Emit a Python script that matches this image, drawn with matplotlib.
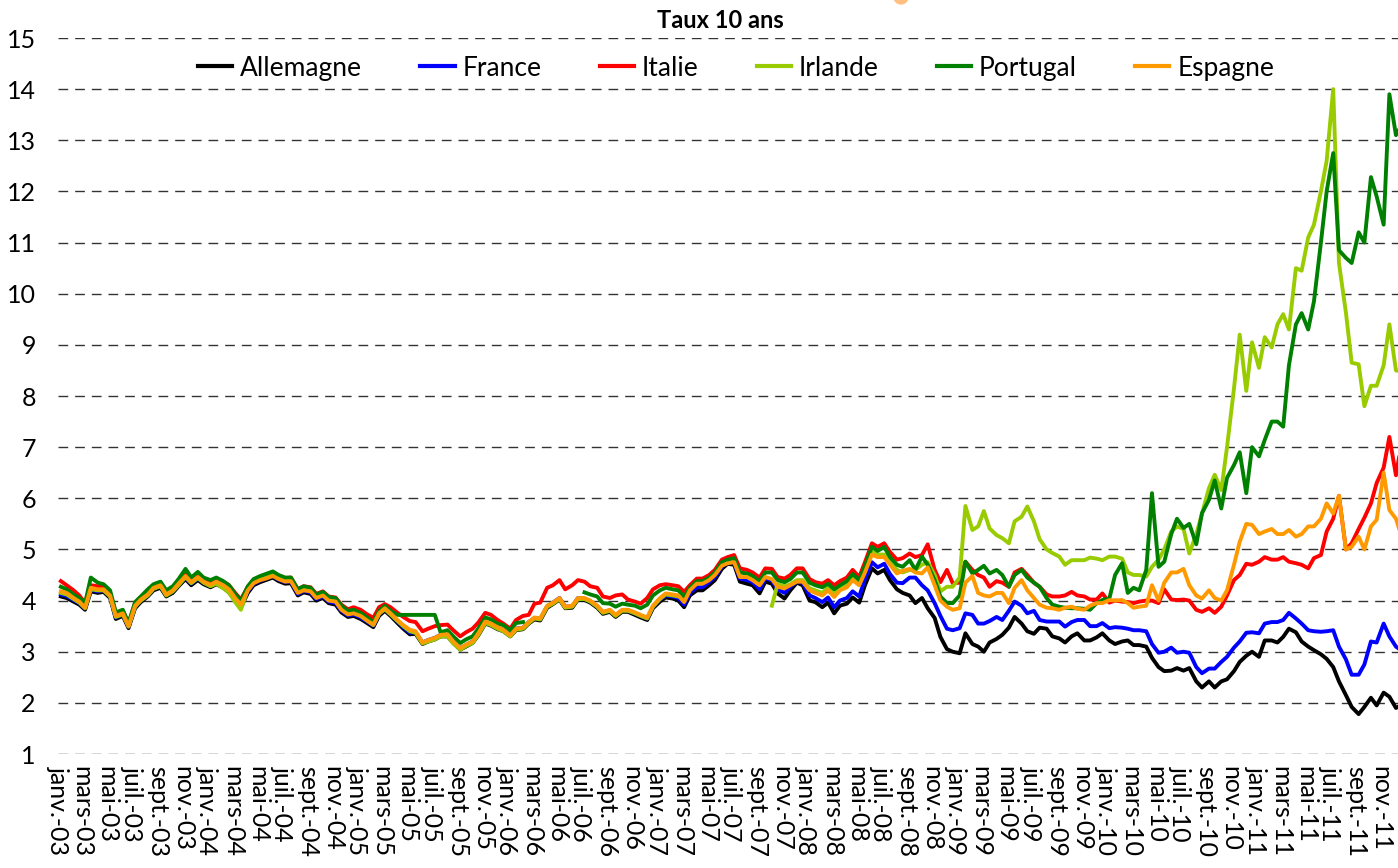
import numpy as np
import pandas as pd
import matplotlib
matplotlib.use("Agg")
import matplotlib.pyplot as plt
from matplotlib.patches import Ellipse
from matplotlib.transforms import IdentityTransform

plt.rcParams['font.family'] = ['Lato', 'DejaVu Sans']

# Taux 10 ans (2 points par mois, 2003-2011)
dates = pd.date_range('2003-01-01', '2011-12-15', freq='SMS') + pd.Timedelta(days=7)

allemagne = [
    4.08, 4.05, 3.98, 3.92, 3.82, 4.18, 4.15, 4.17, 4.05, 3.64, 3.70, 3.46, 3.85, 3.97, 4.08, 4.20, 4.25, 4.08, 4.15, 4.28, 4.42, 4.30, 4.40, 4.32,
    4.26, 4.32, 4.25, 4.16, 4.00, 3.86, 4.15, 4.30, 4.36, 4.40, 4.45, 4.38, 4.33, 4.34, 4.10, 4.16, 4.13, 4.00, 4.05, 3.95, 3.92, 3.77, 3.68, 3.70,
    3.64, 3.57, 3.48, 3.70, 3.80, 3.70, 3.56, 3.45, 3.34, 3.35, 3.15, 3.20, 3.24, 3.30, 3.30, 3.17, 3.04, 3.10, 3.17, 3.32, 3.55, 3.51, 3.44, 3.40,
    3.30, 3.42, 3.44, 3.55, 3.63, 3.61, 3.86, 3.93, 4.02, 3.85, 3.86, 4.02, 4.01, 3.96, 3.86, 3.74, 3.78, 3.68, 3.78, 3.78, 3.72, 3.67, 3.62, 3.85,
    3.98, 4.06, 4.04, 4.00, 3.87, 4.10, 4.20, 4.20, 4.30, 4.40, 4.62, 4.72, 4.70, 4.37, 4.33, 4.30, 4.14, 4.37, 4.33, 4.14, 4.04, 4.20, 4.35, 4.30,
    4.00, 3.97, 3.87, 3.96, 3.75, 3.90, 3.94, 4.06, 3.96, 4.30, 4.63, 4.53, 4.60, 4.40, 4.22, 4.15, 4.10, 3.95, 4.05, 3.85, 3.66, 3.29, 3.05, 3.00,
    2.97, 3.36, 3.15, 3.10, 3.00, 3.18, 3.25, 3.33, 3.47, 3.68, 3.55, 3.40, 3.35, 3.47, 3.45, 3.30, 3.26, 3.18, 3.30, 3.36, 3.22, 3.22, 3.28, 3.36,
    3.22, 3.15, 3.20, 3.22, 3.13, 3.13, 3.10, 2.88, 2.70, 2.62, 2.63, 2.68, 2.63, 2.68, 2.42, 2.30, 2.42, 2.30, 2.42, 2.46, 2.62, 2.80, 2.92, 3.00,
    2.90, 3.22, 3.22, 3.18, 3.29, 3.45, 3.38, 3.20, 3.10, 3.03, 2.95, 2.86, 2.70, 2.42, 2.15, 1.92, 1.78, 1.92, 2.10, 1.95, 2.20, 2.12, 1.90, 1.96,
]

france = [
    4.12, 4.09, 4.01, 3.95, 3.85, 4.21, 4.18, 4.20, 4.08, 3.67, 3.73, 3.49, 3.88, 4.00, 4.11, 4.23, 4.28, 4.11, 4.18, 4.31, 4.45, 4.33, 4.43, 4.35,
    4.29, 4.35, 4.28, 4.19, 4.03, 3.89, 4.18, 4.33, 4.39, 4.43, 4.48, 4.41, 4.36, 4.37, 4.13, 4.19, 4.16, 4.03, 4.08, 3.98, 3.95, 3.80, 3.71, 3.73,
    3.67, 3.60, 3.51, 3.73, 3.83, 3.73, 3.59, 3.48, 3.37, 3.38, 3.18, 3.23, 3.27, 3.33, 3.33, 3.20, 3.07, 3.13, 3.20, 3.35, 3.58, 3.54, 3.47, 3.43,
    3.33, 3.45, 3.47, 3.58, 3.66, 3.64, 3.89, 3.96, 4.05, 3.88, 3.89, 4.05, 4.04, 3.99, 3.89, 3.77, 3.81, 3.71, 3.81, 3.81, 3.75, 3.70, 3.65, 3.88,
    4.02, 4.10, 4.08, 4.05, 3.92, 4.15, 4.26, 4.26, 4.36, 4.46, 4.66, 4.75, 4.74, 4.43, 4.40, 4.36, 4.22, 4.43, 4.39, 4.22, 4.15, 4.27, 4.37, 4.35,
    4.10, 4.05, 3.97, 4.06, 3.87, 4.00, 4.05, 4.18, 4.08, 4.42, 4.75, 4.65, 4.72, 4.52, 4.35, 4.34, 4.45, 4.45, 4.30, 4.20, 3.95, 3.70, 3.45, 3.42,
    3.46, 3.75, 3.72, 3.55, 3.55, 3.60, 3.68, 3.62, 3.80, 3.98, 3.90, 3.75, 3.80, 3.62, 3.59, 3.59, 3.59, 3.49, 3.58, 3.62, 3.62, 3.50, 3.50, 3.56,
    3.46, 3.48, 3.47, 3.45, 3.42, 3.42, 3.40, 3.15, 2.98, 3.00, 3.08, 2.98, 3.00, 2.98, 2.70, 2.58, 2.67, 2.67, 2.80, 2.90, 3.08, 3.20, 3.37, 3.38,
    3.36, 3.55, 3.58, 3.58, 3.62, 3.76, 3.65, 3.55, 3.42, 3.40, 3.39, 3.40, 3.42, 3.10, 2.85, 2.55, 2.55, 2.75, 3.20, 3.18, 3.55, 3.30, 3.10, 3.02,
]

italie = [
    4.38, 4.30, 4.20, 4.10, 3.95, 4.30, 4.28, 4.28, 4.15, 3.75, 3.80, 3.55, 3.95, 4.07, 4.17, 4.30, 4.35, 4.18, 4.25, 4.38, 4.53, 4.40, 4.50, 4.42,
    4.37, 4.43, 4.37, 4.30, 4.15, 4.02, 4.27, 4.40, 4.46, 4.49, 4.54, 4.48, 4.44, 4.45, 4.22, 4.28, 4.26, 4.13, 4.18, 4.08, 4.06, 3.92, 3.83, 3.87,
    3.82, 3.74, 3.66, 3.87, 3.93, 3.87, 3.76, 3.68, 3.60, 3.58, 3.40, 3.45, 3.50, 3.52, 3.53, 3.42, 3.30, 3.38, 3.45, 3.57, 3.76, 3.72, 3.62, 3.55,
    3.45, 3.62, 3.70, 3.72, 3.94, 3.96, 4.25, 4.30, 4.40, 4.22, 4.30, 4.40, 4.37, 4.28, 4.25, 4.08, 4.05, 4.10, 4.12, 4.02, 3.98, 3.94, 4.05, 4.22,
    4.30, 4.32, 4.30, 4.28, 4.17, 4.30, 4.43, 4.43, 4.50, 4.60, 4.80, 4.85, 4.89, 4.63, 4.60, 4.55, 4.45, 4.63, 4.62, 4.46, 4.43, 4.50, 4.63, 4.63,
    4.42, 4.36, 4.33, 4.40, 4.30, 4.38, 4.45, 4.60, 4.46, 4.75, 5.12, 5.05, 5.12, 4.95, 4.80, 4.83, 4.92, 4.85, 4.89, 5.10, 4.60, 4.36, 4.60, 4.34,
    4.35, 4.76, 4.60, 4.50, 4.45, 4.27, 4.38, 4.35, 4.27, 4.55, 4.62, 4.50, 4.35, 4.27, 4.12, 4.08, 4.08, 4.10, 4.17, 4.10, 4.08, 4.02, 4.02, 4.14,
    3.96, 4.00, 3.98, 3.97, 3.95, 3.98, 4.00, 4.00, 3.95, 4.22, 4.02, 4.01, 4.02, 4.00, 3.82, 3.78, 3.85, 3.76, 3.88, 4.10, 4.40, 4.50, 4.72, 4.70,
    4.76, 4.85, 4.80, 4.80, 4.85, 4.76, 4.73, 4.70, 4.63, 4.83, 4.89, 5.35, 5.60, 6.05, 5.00, 5.12, 5.40, 5.62, 5.90, 6.30, 6.60, 7.20, 6.45, 7.10,
]

irlande = [
    4.15, 4.12, 4.03, 3.96, 3.85, 4.22, 4.20, 4.20, 4.08, 3.68, 3.73, 3.49, 3.88, 4.00, 4.10, 4.23, 4.28, 4.10, 4.18, 4.30, 4.46, 4.34, 4.44, 4.35,
    4.28, 4.33, 4.24, 4.16, 3.97, 3.82, 4.22, 4.40, 4.46, 4.50, 4.55, 4.47, 4.40, 4.40, 4.17, 4.22, 4.20, 4.07, 4.12, 4.02, 4.00, 3.84, 3.75, 3.76,
    3.70, 3.62, 3.52, 3.74, 3.83, 3.73, 3.60, 3.50, 3.40, 3.37, 3.16, 3.20, 3.24, 3.30, 3.30, 3.16, 3.04, 3.11, 3.17, 3.33, 3.56, 3.52, 3.45, 3.40,
    3.30, 3.43, 3.45, 3.56, 3.65, 3.63, 3.88, 3.94, 4.03, 3.86, 3.88, 4.03, 4.03, 3.98, 3.88, 3.76, 3.80, 3.70, 3.80, 3.80, 3.75, 3.70, 3.65, 3.88,
    4.03, 4.12, 4.10, 4.08, None, None, None, None, None, None, None, None, None, None, None, None, None, None, 3.90, 4.32, 4.28, 4.32, 4.40, 4.40,
    4.24, 4.20, 4.15, 4.25, 4.15, 4.28, 4.33, 4.47, 4.38, 4.60, 4.95, 4.90, 4.90, 4.75, 4.60, 4.55, 4.60, 4.60, 4.70, 4.75, 4.50, 4.18, 4.27, 4.27,
    4.45, 5.85, 5.38, 5.45, 5.75, 5.41, 5.28, 5.22, 5.12, 5.55, 5.64, 5.84, 5.55, 5.20, 5.00, 4.93, 4.86, 4.70, 4.79, 4.79, 4.79, 4.84, 4.82, 4.79,
    4.86, 4.86, 4.82, 4.55, 4.50, 4.50, 4.47, 4.66, 4.80, 5.00, 5.35, 5.45, 5.40, 4.92, 5.30, 5.70, 6.20, 6.46, 6.16, 7.00, 8.15, 9.20, 8.10, 9.05,
    8.55, 9.15, 8.95, 9.40, 9.60, 9.30, 10.50, 10.45, 11.10, 11.35, 12.00, 12.60, 14.00, 10.60, 9.63, 8.65, 8.62, 7.80, 8.20, 8.20, 8.60, 9.40, 8.50, 8.48,
]

portugal = [
    4.27, 4.22, 4.12, 4.05, 3.95, 4.45, 4.35, 4.32, 4.20, 3.77, 3.82, 3.56, 3.97, 4.08, 4.22, 4.32, 4.37, 4.20, 4.28, 4.42, 4.62, 4.45, 4.56, 4.45,
    4.40, 4.45, 4.38, 4.30, 4.13, 4.00, 4.28, 4.42, 4.48, 4.52, 4.57, 4.50, 4.45, 4.45, 4.22, 4.28, 4.25, 4.12, 4.17, 4.07, 4.05, 3.90, 3.80, 3.82,
    3.76, 3.68, 3.58, 3.80, 3.90, 3.80, 3.72, 3.72, 3.72, 3.72, 3.72, 3.72, 3.72, 3.38, 3.42, 3.30, 3.17, 3.24, 3.30, 3.45, 3.67, 3.63, 3.55, 3.52,
    3.42, 3.56, 3.58, None, None, None, None, None, None, None, None, None, 4.16, 4.12, 4.08, 3.95, 3.94, 3.88, 3.94, 3.92, 3.90, 3.85, 3.92, 4.10,
    4.20, 4.25, 4.22, 4.20, 4.07, 4.25, 4.38, 4.38, 4.45, 4.55, 4.75, 4.80, 4.83, 4.55, 4.53, 4.48, 4.38, 4.55, 4.55, 4.40, 4.36, 4.42, 4.55, 4.55,
    4.35, 4.30, 4.26, 4.33, 4.22, 4.30, 4.38, 4.52, 4.40, 4.68, 5.05, 4.97, 5.05, 4.85, 4.70, 4.66, 4.79, 4.60, 4.86, 4.70, 4.40, 4.08, 3.95, 3.95,
    4.10, 4.76, 4.53, 4.60, 4.68, 4.53, 4.60, 4.50, 4.27, 4.50, 4.60, 4.45, 4.35, 4.27, 4.05, 3.92, 3.88, 3.86, 3.85, 3.85, 3.84, 3.82, 3.95, 4.01,
    4.04, 4.50, 4.73, 4.15, 4.25, 4.20, 4.60, 6.10, 4.66, 4.76, 5.30, 5.60, 5.42, 5.50, 5.10, 5.71, 5.97, 6.35, 5.80, 6.40, 6.65, 6.90, 6.10, 7.00,
    6.82, 7.14, 7.50, 7.50, 7.40, 8.60, 9.40, 9.62, 9.30, 9.85, 11.00, 12.00, 12.75, 10.85, 10.70, 10.60, 11.20, 11.00, 12.28, 11.90, 11.35, 13.90, 13.10, 13.30,
]

espagne = [
    4.18, 4.15, 4.05, 3.98, 3.86, 4.25, 4.22, 4.22, 4.10, 3.70, 3.75, 3.50, 3.90, 4.02, 4.12, 4.25, 4.30, 4.12, 4.20, 4.33, 4.48, 4.36, 4.46, 4.37,
    4.31, 4.37, 4.30, 4.22, 4.05, 3.92, 4.20, 4.34, 4.40, 4.43, 4.48, 4.42, 4.37, 4.38, 4.15, 4.20, 4.18, 4.05, 4.10, 4.00, 3.98, 3.82, 3.73, 3.75,
    3.70, 3.62, 3.53, 3.75, 3.85, 3.75, 3.62, 3.52, 3.43, 3.40, 3.18, 3.23, 3.27, 3.33, 3.34, 3.20, 3.07, 3.14, 3.20, 3.36, 3.59, 3.55, 3.48, 3.43,
    3.32, 3.45, 3.47, 3.58, 3.67, 3.65, 3.90, 3.96, 4.05, 3.88, 3.90, 4.05, 4.05, 4.00, 3.90, 3.78, 3.82, 3.72, 3.82, 3.82, 3.77, 3.72, 3.67, 3.90,
    4.05, 4.14, 4.12, 4.10, 3.97, 4.20, 4.33, 4.33, 4.40, 4.50, 4.68, 4.73, 4.75, 4.46, 4.46, 4.40, 4.30, 4.46, 4.42, 4.27, 4.24, 4.30, 4.37, 4.37,
    4.20, 4.15, 4.10, 4.20, 4.07, 4.20, 4.26, 4.40, 4.30, 4.55, 4.90, 4.85, 4.85, 4.70, 4.53, 4.58, 4.62, 4.55, 4.53, 4.65, 4.30, 4.00, 3.88, 3.82,
    3.85, 4.35, 4.48, 4.15, 4.10, 4.08, 4.15, 4.15, 3.95, 4.25, 4.40, 4.20, 4.05, 3.92, 3.86, 3.85, 3.82, 3.86, 3.88, 3.84, 3.82, 3.90, 3.95, 3.95,
    4.01, 4.00, 4.01, 3.95, 3.86, 3.88, 3.90, 4.30, 4.00, 4.35, 4.55, 4.55, 4.62, 4.30, 4.10, 4.04, 4.20, 4.05, 4.00, 4.20, 4.70, 5.15, 5.50, 5.48,
    5.30, 5.35, 5.40, 5.30, 5.30, 5.38, 5.25, 5.30, 5.45, 5.45, 5.60, 5.90, 5.70, 6.05, 5.00, 5.05, 5.25, 5.00, 5.45, 5.58, 6.50, 5.77, 5.60, 5.25,
]

pays = ['Allemagne', 'France', 'Italie', 'Irlande', 'Portugal', 'Espagne']
couleurs = ['#000000', '#0000FF', '#FF0000', '#99CC00', '#008000', '#FF9900']
series = [allemagne, france, italie, irlande, portugal, espagne]

mois = {1: 'janv.', 3: 'mars', 5: 'mai', 7: 'juil.', 9: 'sept.', 11: 'nov.'}
ticks = pd.date_range('2003-01-01', '2011-11-01', freq='2MS')
tick_labels = [f"{mois[d.month]}-{d:%y}" for d in ticks]

fig = plt.figure(figsize=(13.98, 8.68), dpi=100)
ax = fig.add_axes([58 / 1398, 114 / 868, 1 - 58 / 1398, 716 / 868])

for nom, col, vals in zip(pays, couleurs, series):
    ax.plot(dates, np.array(vals, dtype=float), color=col, lw=2.8, label=nom,
            solid_joinstyle='round')

ax.set_ylim(1, 15)
ax.set_yticks(range(1, 16))
ax.set_xlim(pd.Timestamp('2003-01-20'), pd.Timestamp('2011-12-13'))
ax.set_xticks(ticks)
ax.set_xticklabels(tick_labels, rotation=-90, va='top', ha='center')
ax.tick_params(axis='y', length=0, pad=16, labelsize=18)
ax.tick_params(axis='x', length=0, pad=9, labelsize=18)
ax.grid(axis='y', color='#333333', lw=1, linestyle=(0, (7, 5)))
ax.set_axisbelow(True)
for s in ax.spines.values():
    s.set_visible(False)

ax.set_title('Taux 10 ans', fontsize=17, fontweight='bold', pad=7, x=(720 - 58) / 1340)

leg = ax.legend(ncol=6, loc='center', bbox_to_anchor=(0.506, 0.958), frameon=False,
                fontsize=19, handlelength=1.3, handletextpad=0.3, columnspacing=2.2)
for line in leg.get_lines():
    line.set_linewidth(3)

# petit élément orange coupé en haut de l'image
fig.add_artist(Ellipse((901, 871), 14, 14, color='#FFC080', transform=IdentityTransform()))

fig.savefig('out.png', dpi=100)
